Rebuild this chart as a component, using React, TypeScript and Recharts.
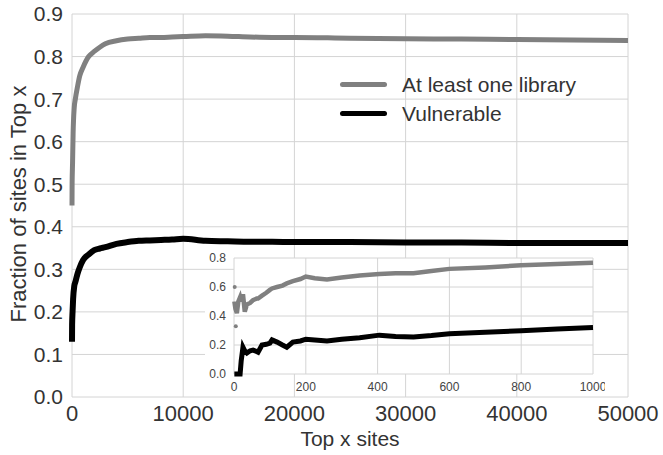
import { LineChart, Line, XAxis, YAxis, CartesianGrid, Legend, Label } from 'recharts';

// main chart: top x sites vs fraction
const mainSites = [1, 10, 50, 100, 200, 300, 500, 700, 1000, 1500, 2000, 2500, 3000, 4000, 5000, 6000, 7000, 8000, 9000, 10000, 12000, 14000, 16000, 18000, 20000, 25000, 30000, 35000, 40000, 45000, 50000];
const mainLibrary = [0.45, 0.5, 0.55, 0.62, 0.68, 0.7, 0.73, 0.755, 0.775, 0.8, 0.812, 0.822, 0.83, 0.837, 0.841, 0.843, 0.845, 0.845, 0.846, 0.847, 0.849, 0.848, 0.846, 0.845, 0.845, 0.843, 0.842, 0.841, 0.84, 0.839, 0.838];
const mainVulnerable = [0.13, 0.17, 0.2, 0.23, 0.26, 0.27, 0.29, 0.305, 0.322, 0.335, 0.345, 0.349, 0.352, 0.36, 0.364, 0.367, 0.368, 0.369, 0.37, 0.372, 0.367, 0.366, 0.365, 0.365, 0.364, 0.364, 0.363, 0.363, 0.362, 0.362, 0.362];

// inset: first 1000 sites
const insetSites = [1, 4, 8, 12, 17, 20, 25, 30, 36, 45, 53, 63, 67, 78, 90, 100, 106, 120, 135, 147, 164, 185, 200, 225, 259, 300, 350, 405, 450, 500, 550, 600, 700, 800, 900, 1000];
const insetLibrary = [0.5, 0.45, 0.42, 0.5, 0.53, 0.5, 0.55, 0.43, 0.48, 0.49, 0.51, 0.52, 0.52, 0.54, 0.56, 0.58, 0.59, 0.6, 0.61, 0.625, 0.64, 0.655, 0.672, 0.66, 0.652, 0.665, 0.68, 0.69, 0.694, 0.695, 0.71, 0.725, 0.735, 0.75, 0.758, 0.768];
const insetVulnerable = [0, 0, 0, 0, 0, 0.09, 0.185, 0.16, 0.145, 0.16, 0.165, 0.155, 0.15, 0.2, 0.205, 0.213, 0.235, 0.22, 0.2, 0.185, 0.22, 0.228, 0.24, 0.235, 0.227, 0.24, 0.25, 0.268, 0.258, 0.255, 0.265, 0.278, 0.288, 0.298, 0.31, 0.32];
const insetOutlierSites = [2, 5];
const insetOutliers = [0.6, 0.33];

const mainXTicks = [0, 10000, 20000, 30000, 40000, 50000];
const mainYTicks = [0, 0.1, 0.2, 0.3, 0.4, 0.5, 0.6, 0.7, 0.8, 0.9];
const insetXTicks = [0, 200, 400, 600, 800, 1000];
const insetYTicks = [0, 0.2, 0.4, 0.6, 0.8];

const GRAY = '#808080';
const FONT = '"Liberation Sans", Arial, sans-serif';
const GRID = '#d4d4d4';

const mainData = mainSites.map((s, i) => ({ site: s, lib: mainLibrary[i], vuln: mainVulnerable[i] }));
const insetData = [
  ...insetSites.map((s, i) => ({ site: s, lib: insetLibrary[i], vuln: insetVulnerable[i] } as any)),
  ...insetOutlierSites.map((s, i) => ({ site: s, outlier: insetOutliers[i] } as any)),
].sort((a, b) => a.site - b.site);

function LegendBox({ payload }: any) {
  const items = (payload || []).filter((p: any) => p.value !== 'outlier');
  return (
    <div style={{ fontFamily: FONT, fontSize: 21, color: '#333' }}>
      {items.map((p: any) => (
        <div key={p.value} style={{ display: 'flex', alignItems: 'center', height: 29 }}>
          <div style={{ width: 47, height: 5, borderRadius: 3, background: p.color, marginRight: 15 }} />
          <span>{p.value}</span>
        </div>
      ))}
    </div>
  );
}

export default function App() {
  const tick = { fontFamily: FONT, fontSize: 21, fill: '#333' };
  const smallTick = { fontFamily: FONT, fontSize: 12, fill: '#444' };
  return (
    <div style={{ position: 'absolute', left: 0, top: 0, width: 663, height: 455, background: '#fff' }}>
      <LineChart width={663} height={455} data={mainData} margin={{ top: 14, right: 35, left: 0, bottom: 0 }}>
        <CartesianGrid stroke={GRID} />
        <XAxis dataKey="site" type="number" domain={[0, 50000]} ticks={mainXTicks} axisLine={false} tickLine={false}
          tickSize={0} tickMargin={8} height={58} tick={{ ...tick, fontSize: 22 }} interval={0}>
          <Label content={() => (
            <text x={350} y={446} textAnchor="middle" fontFamily={FONT} fontSize={21} fill="#333">Top x sites</text>
          )} />
        </XAxis>
        <YAxis type="number" domain={[0, 0.9]} ticks={mainYTicks} axisLine={false} tickLine={false}
          tickSize={0} tickMargin={9} width={72} tick={tick} tickFormatter={(v: number) => v.toFixed(1)} interval={0}>
          <Label content={() => (
            <text x={18} y={204} transform="rotate(-90 18 204)" textAnchor="middle" dominantBaseline="central"
              fontFamily={FONT} fontSize={22} fill="#333">Fraction of sites in Top x</text>
          )} />
        </YAxis>
        <Legend layout="vertical" align="center" verticalAlign="middle" content={<LegendBox />}
          wrapperStyle={{ position: 'absolute', left: 340, top: 70, width: 280 }} />
        <Line type="monotone" dataKey="lib" name="At least one library" stroke={GRAY} strokeWidth={5} dot={false} isAnimationActive={false} />
        <Line type="monotone" dataKey="vuln" name="Vulnerable" stroke="#000" strokeWidth={6} dot={false} isAnimationActive={false} />
      </LineChart>

      <div style={{ position: 'absolute', left: 205, top: 277, width: 30, height: 99, background: '#fff' }} />
      <div style={{ position: 'absolute', left: 190, top: 245 }}>
        <LineChart width={415} height={150} data={insetData} margin={{ top: 13, right: 12, left: 0, bottom: 0 }}>
          <CartesianGrid stroke={GRID} fill="#fff" fillOpacity={1} />
          <XAxis dataKey="site" type="number" domain={[0, 1000]} ticks={insetXTicks} axisLine={false} tickLine={false}
            tickSize={0} tickMargin={8} height={21} tick={smallTick} interval={0} />
          <YAxis type="number" domain={[0, 0.8]} ticks={insetYTicks} axisLine={false} tickLine={false}
            tickSize={0} tickMargin={8} width={44} tick={smallTick} tickFormatter={(v: number) => v.toFixed(1)} interval={0} />
          <Line type="linear" dataKey="lib" stroke={GRAY} strokeWidth={4.5} dot={false} connectNulls isAnimationActive={false} />
          <Line type="linear" dataKey="vuln" stroke="#000" strokeWidth={5} dot={false} connectNulls isAnimationActive={false} />
          <Line type="linear" dataKey="outlier" stroke="none" dot={{ r: 2, fill: GRAY, stroke: 'none' }} isAnimationActive={false} />
        </LineChart>
      </div>
    </div>
  );
}
